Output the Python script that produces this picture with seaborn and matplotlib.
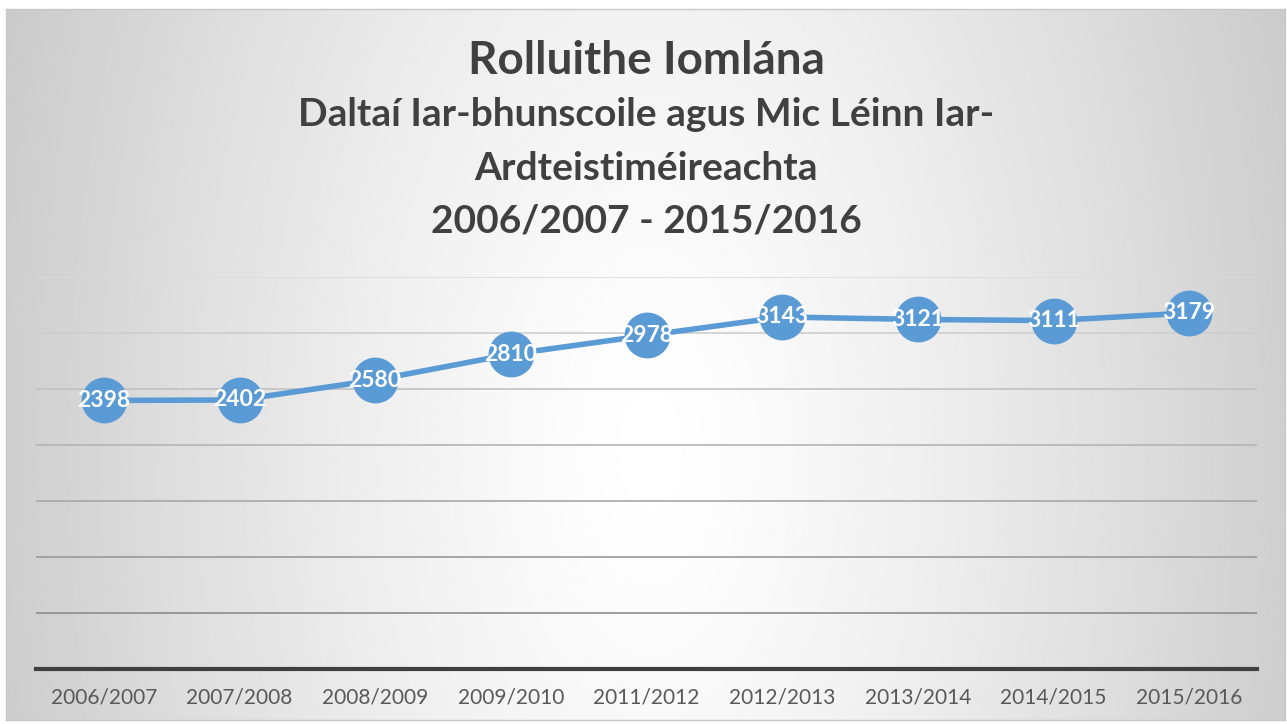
import numpy as np
import pandas as pd
import matplotlib.pyplot as plt
import seaborn as sns

# Dati
years = ["2006/2007", "2007/2008", "2008/2009", "2009/2010", "2011/2012",
         "2012/2013", "2013/2014", "2014/2015", "2015/2016"]
enrolments = [2398, 2402, 2580, 2810, 2978, 3143, 3121, 3111, 3179]
title_lines = ["Rolluithe Iomlána",
               "Daltaí Iar-bhunscoile agus Mic Léinn Iar-",
               "Ardteistiméireachta",
               "2006/2007 - 2015/2016"]

sns.set_theme(style="white")
plt.rcParams['font.family'] = ['Lato', 'DejaVu Sans']

W, H = 1287, 724
fig = plt.figure(figsize=(W / 100, H / 100), dpi=100)

# sfondo con gradiente radiale dentro la cornice del grafico
bx0, by0, bx1, by1 = 6, 9, 1285, 720
bg = fig.add_axes([bx0 / W, 1 - by1 / H, (bx1 - bx0) / W, (by1 - by0) / H])
yy, xx = np.mgrid[by0:by1:2, bx0:bx1:2]
dx = (xx - 650) / 640
dy = (yy - 450) / 1200
r = np.sqrt(dx ** 2 + dy ** 2)
shade = np.clip(1 - 0.19 * r ** 1.3, 0.77, 1.0)
bg.imshow(shade, cmap="gray", vmin=0, vmax=1, aspect="auto", interpolation="bilinear")
bg.set_xticks([])
bg.set_yticks([])
for s in bg.spines.values():
    s.set_color("#c8c8c8")
    s.set_linewidth(1)

# area del grafico
left, right, top, bottom = 36, 1257, 277, 669
ax = fig.add_axes([left / W, 1 - bottom / H, (right - left) / W, (bottom - top) / H])
ax.patch.set_alpha(0)

df = pd.DataFrame({"pos": np.arange(len(years)), "value": enrolments})

# griglia: più scura verso il basso
grid_vals = np.arange(500, 3501, 500)
grid_cols = np.linspace(0.55, 0.86, len(grid_vals))
for v, c in zip(grid_vals, grid_cols):
    ax.axhline(v, color=str(c), lw=1.2, zorder=0)

sns.lineplot(data=df, x="pos", y="value", ax=ax, color="#5B9BD5", linewidth=4.0,
             marker="o", markersize=33, markeredgewidth=0, zorder=3)

for x, v in zip(df["pos"], df["value"]):
    ax.text(x, v, str(v), ha="center", va="center", color="white",
            fontsize=16.5, fontweight="bold", zorder=4)

ax.set_xlim(-0.5, len(years) - 0.5)
ax.set_ylim(0, 3500)
ax.set_yticks([])
ax.set_xticks(df["pos"])
ax.set_xticklabels(years, fontsize=15, color="#595959")
ax.tick_params(axis="x", length=0, pad=13)
ax.set_xlabel("")
ax.set_ylabel("")
for side in ["top", "left", "right"]:
    ax.spines[side].set_visible(False)
ax.spines["bottom"].set_color("#404040")
ax.spines["bottom"].set_linewidth(3)

# titolo su più righe
fig.text(646 / W, 1 - 61 / H, title_lines[0], ha="center", va="center",
         fontsize=33, fontweight="bold", color="#404040")
for i, line in enumerate(title_lines[1:]):
    fig.text(646 / W, 1 - (115 + 53 * i) / H, line, ha="center", va="center",
             fontsize=28, fontweight="bold", color="#404040")

fig.savefig("out.png", dpi=100)
